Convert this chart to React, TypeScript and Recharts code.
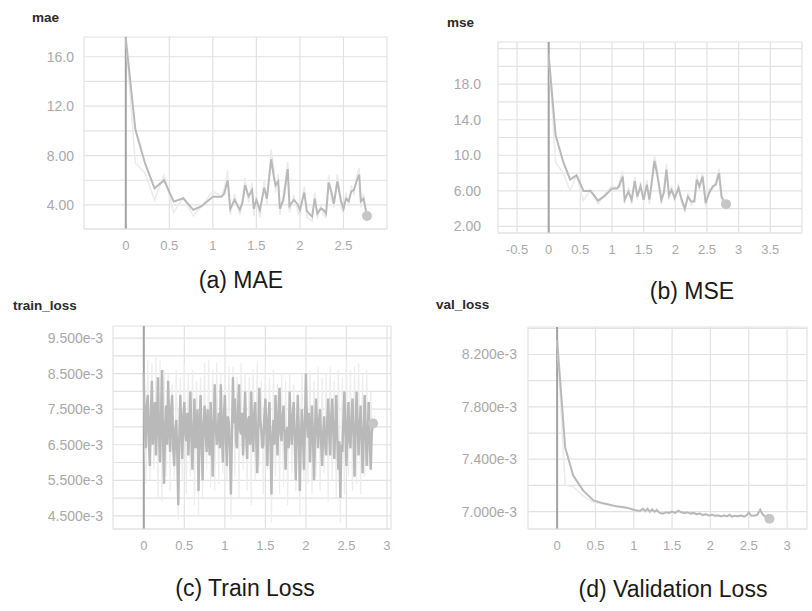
import React from 'react';
import { LineChart, Line, XAxis, YAxis, CartesianGrid, ReferenceLine, ReferenceDot } from 'recharts';

// (a) mae
const maeX = [0, 0.11, 0.22, 0.33, 0.44, 0.55, 0.66, 0.775, 0.87, 1.0, 1.1,
  1.13, 1.17, 1.2, 1.25, 1.31, 1.34, 1.37, 1.41, 1.45, 1.47,
  1.5, 1.54, 1.59, 1.62, 1.67, 1.7, 1.72, 1.75, 1.77, 1.81,
  1.86, 1.88, 1.93, 1.97, 2.0, 2.05, 2.08, 2.14, 2.17, 2.2,
  2.24, 2.27, 2.3, 2.33, 2.36, 2.39, 2.43, 2.47, 2.5, 2.53,
  2.56, 2.59, 2.62, 2.65, 2.68, 2.7, 2.73, 2.76];
const maeSmooth = [17.5, 10.1, 7.4, 5.35, 6.0, 4.27, 4.54, 3.6, 3.9, 4.67, 4.67,
  4.9, 6.0, 3.7, 4.4, 3.6, 4.2, 5.6, 4.7, 5.2, 3.7,
  4.4, 3.6, 5.4, 4.5, 7.7, 6.3, 5.6, 5.9, 3.7, 4.4,
  6.9, 3.9, 4.4, 4.1, 3.6, 5.0, 3.5, 3.05, 4.5, 3.3,
  3.7, 3.6, 3.3, 5.8, 5.1, 4.1, 5.9, 4.4, 3.7, 4.5,
  4.3, 5.1, 5.2, 5.9, 6.45, 4.3, 4.5, 3.5];
const maeRaw = [17.5, 7.4, 6.6, 4.4, 6.4, 3.4, 4.6, 3.1, 3.9, 5.1, 4.7,
  5.3, 6.8, 3.2, 4.9, 3.2, 4.5, 6.2, 4.2, 5.8, 3.1,
  4.8, 3.0, 6.0, 4.0, 8.5, 6.9, 5.0, 6.5, 3.2, 4.9,
  7.5, 3.4, 4.8, 3.6, 3.1, 5.5, 3.0, 2.7, 5.0, 2.9,
  4.0, 3.2, 3.0, 6.4, 4.6, 3.8, 6.5, 3.9, 3.3, 5.0,
  3.9, 5.6, 4.8, 6.3, 7.0, 3.8, 4.9, 3.2];
const maeLast = { x: 2.77, y: 3.1 };

// (b) mse
const mseX = [0, 0.11, 0.23, 0.34, 0.44, 0.55, 0.66, 0.78, 0.88, 1.0, 1.08,
  1.11, 1.17, 1.2, 1.26, 1.31, 1.36, 1.4, 1.45, 1.5, 1.55,
  1.59, 1.62, 1.67, 1.71, 1.75, 1.78, 1.82, 1.86, 1.9, 1.94,
  1.99, 2.05, 2.1, 2.15, 2.2, 2.25, 2.3, 2.34, 2.38, 2.43,
  2.48, 2.53, 2.59, 2.64, 2.69, 2.73, 2.76];
const mseSmooth = [21.3, 12.25, 9.25, 7.26, 7.75, 5.98, 6.0, 4.9, 5.4, 6.25, 6.25,
  6.5, 7.6, 5.0, 5.9, 5.0, 7.1, 5.35, 6.5, 5.0, 6.7,
  5.0, 6.5, 9.35, 8.0, 6.3, 5.0, 5.8, 8.4, 5.5, 6.1,
  5.2, 6.3, 5.0, 4.0, 5.35, 4.8, 4.8, 7.25, 6.5, 7.6,
  4.6, 5.7, 6.5, 6.7, 8.0, 5.35, 5.0];
const mseRaw = [21.3, 9.2, 8.0, 6.0, 7.8, 4.9, 6.1, 4.5, 5.6, 6.6, 6.3,
  6.9, 8.2, 4.6, 6.4, 4.5, 7.6, 5.0, 7.0, 4.6, 7.2,
  4.5, 7.0, 10.0, 8.6, 5.8, 4.5, 6.2, 9.0, 5.0, 6.6,
  4.8, 6.8, 4.6, 3.7, 5.8, 4.4, 5.1, 7.8, 6.0, 8.1,
  4.2, 6.2, 6.0, 7.1, 8.5, 4.9, 4.6];
const mseLast = { x: 2.8, y: 4.5 };

// (c) train_loss, values in units of 1e-3
const trainX = [0, 0.0125, 0.025, 0.0375, 0.05, 0.0625, 0.075, 0.0875, 0.1, 0.1125, 0.125, 0.1375, 0.15, 0.1625, 0.175, 0.1875, 0.2, 0.2125, 0.225, 0.2375,
  0.25, 0.2625, 0.275, 0.2875, 0.3, 0.3125, 0.325, 0.3375, 0.35, 0.3625, 0.375, 0.3875, 0.4, 0.4125, 0.425, 0.4375, 0.45, 0.4625, 0.475, 0.4875,
  0.5, 0.5125, 0.525, 0.5375, 0.55, 0.5625, 0.575, 0.5875, 0.6, 0.6125, 0.625, 0.6375, 0.65, 0.6625, 0.675, 0.6875, 0.7, 0.7125, 0.725, 0.7375,
  0.75, 0.7625, 0.775, 0.7875, 0.8, 0.8125, 0.825, 0.8375, 0.85, 0.8625, 0.875, 0.8875, 0.9, 0.9125, 0.925, 0.9375, 0.95, 0.9625, 0.975, 0.9875,
  1.0, 1.0125, 1.025, 1.0375, 1.05, 1.0625, 1.075, 1.0875, 1.1, 1.1125, 1.125, 1.1375, 1.15, 1.1625, 1.175, 1.1875, 1.2, 1.2125, 1.225, 1.2375,
  1.25, 1.2625, 1.275, 1.2875, 1.3, 1.3125, 1.325, 1.3375, 1.35, 1.3625, 1.375, 1.3875, 1.4, 1.4125, 1.425, 1.4375, 1.45, 1.4625, 1.475, 1.4875,
  1.5, 1.5125, 1.525, 1.5375, 1.55, 1.5625, 1.575, 1.5875, 1.6, 1.6125, 1.625, 1.6375, 1.65, 1.6625, 1.675, 1.6875, 1.7, 1.7125, 1.725, 1.7375,
  1.75, 1.7625, 1.775, 1.7875, 1.8, 1.8125, 1.825, 1.8375, 1.85, 1.8625, 1.875, 1.8875, 1.9, 1.9125, 1.925, 1.9375, 1.95, 1.9625, 1.975, 1.9875,
  2.0, 2.0125, 2.025, 2.0375, 2.05, 2.0625, 2.075, 2.0875, 2.1, 2.1125, 2.125, 2.1375, 2.15, 2.1625, 2.175, 2.1875, 2.2, 2.2125, 2.225, 2.2375,
  2.25, 2.2625, 2.275, 2.2875, 2.3, 2.3125, 2.325, 2.3375, 2.35, 2.3625, 2.375, 2.3875, 2.4, 2.4125, 2.425, 2.4375, 2.45, 2.4625, 2.475, 2.4875,
  2.5, 2.5125, 2.525, 2.5375, 2.55, 2.5625, 2.575, 2.5875, 2.6, 2.6125, 2.625, 2.6375, 2.65, 2.6625, 2.675, 2.6875, 2.7, 2.7125, 2.725, 2.7375,
  2.75, 2.7625, 2.775, 2.7875, 2.8, 2.8125, 2.825];
const trainSmooth = [8.5, 6.9, 6.4, 7.6, 7.9, 6.6, 5.9, 7.4, 8.3, 6.5, 7.0, 7.7, 6.2, 7.1, 8.4, 6.8, 6.0, 7.3, 8.6, 6.6,
  5.4, 7.0, 7.6, 6.5, 8.3, 7.2, 6.3, 7.5, 7.9, 6.4, 5.9, 6.9, 7.2, 6.3, 4.8, 6.6, 7.9, 7.0, 6.1, 7.3,
  7.7, 6.8, 6.6, 7.4, 6.2, 7.1, 8.0, 6.7, 5.8, 6.9, 7.8, 6.4, 6.9, 7.5, 5.2, 6.6, 7.9, 6.8, 5.5, 7.0,
  7.6, 6.9, 6.3, 7.5, 6.8, 6.2, 7.7, 7.0, 5.6, 6.9, 8.2, 7.1, 6.5, 6.8, 7.4, 6.4, 8.2, 7.0, 6.0, 7.2,
  7.9, 6.7, 5.9, 7.3, 7.1, 6.4, 5.1, 6.8, 8.4, 7.1, 7.8, 6.6, 6.4, 7.5, 8.2, 6.9, 6.8, 7.4, 6.2, 7.1,
  8.0, 6.8, 6.1, 7.2, 7.3, 6.5, 8.0, 6.9, 6.3, 7.4, 7.7, 6.6, 5.7, 7.0, 8.1, 7.2, 6.9, 6.4, 6.5, 7.3,
  7.8, 6.9, 5.9, 7.2, 7.7, 6.6, 5.1, 6.7, 7.2, 6.5, 7.9, 7.0, 6.2, 7.4, 8.1, 6.8, 6.6, 7.3, 7.6, 6.7,
  5.8, 6.9, 7.0, 6.4, 8.0, 7.1, 6.5, 7.3, 7.7, 6.6, 5.5, 6.8, 7.9, 6.9, 5.2, 6.6, 7.5, 6.9, 5.8, 7.0,
  8.5, 7.2, 6.7, 7.4, 6.0, 6.8, 7.6, 6.7, 5.5, 6.9, 7.8, 7.0, 6.4, 7.2, 7.5, 6.6, 5.9, 6.8, 7.3, 6.5,
  6.2, 7.1, 7.8, 6.8, 6.2, 7.3, 7.8, 6.9, 6.1, 7.0, 7.9, 6.7, 5.8, 6.6, 5.0, 6.5, 6.3, 7.2, 8.0, 6.9,
  5.9, 7.0, 7.7, 6.6, 6.4, 7.3, 7.8, 6.8, 5.6, 6.9, 8.0, 7.1, 6.2, 7.0, 7.6, 6.7, 5.7, 6.8, 7.9, 6.9,
  5.9, 6.8, 7.7, 6.6, 5.8, 6.8, 7.1];
const trainRaw = [8.5, 6.8, 5.4, 7.2, 8.9, 6.9, 5.5, 7.1, 8.8, 7.0, 5.8, 6.7, 9.0, 7.3, 5.0, 6.9, 8.9, 7.0, 4.9, 7.2,
  8.6, 6.8, 5.6, 7.1, 8.5, 6.9, 5.2, 7.3, 8.2, 7.0, 5.5, 6.8, 8.6, 7.1, 4.4, 6.9, 8.4, 7.2, 5.5, 7.0,
  8.8, 6.9, 5.1, 7.2, 8.5, 7.0, 5.6, 6.8, 8.6, 7.1, 4.8, 6.9, 8.3, 7.2, 4.5, 7.0, 8.4, 6.8, 5.0, 7.1,
  8.8, 7.0, 5.8, 6.9, 8.9, 7.1, 5.3, 7.0, 8.6, 6.8, 5.2, 7.2, 8.8, 6.9, 5.4, 7.0, 8.5, 7.1, 5.7, 6.9,
  9.0, 7.2, 5.5, 6.9, 8.7, 7.0, 4.4, 6.8, 8.7, 7.1, 5.6, 6.9, 8.4, 7.2, 5.0, 7.0, 8.8, 6.8, 5.8, 7.1,
  8.5, 7.0, 5.2, 6.9, 8.4, 7.1, 4.8, 7.0, 8.6, 6.8, 5.5, 7.2, 8.8, 6.9, 5.9, 7.1, 8.3, 7.0, 5.1, 6.8,
  8.7, 7.1, 5.8, 6.9, 8.4, 7.0, 4.3, 6.8, 8.6, 7.2, 5.6, 6.9, 8.2, 7.1, 5.1, 7.0, 8.5, 6.8, 5.3, 7.1,
  8.3, 6.9, 4.8, 7.0, 8.5, 7.2, 5.7, 6.8, 8.2, 7.1, 5.2, 6.9, 8.0, 7.0, 4.5, 7.2, 8.5, 6.9, 5.5, 7.0,
  9.0, 7.1, 5.4, 6.8, 8.6, 7.0, 5.1, 7.2, 8.3, 6.9, 5.6, 7.1, 8.7, 7.0, 5.2, 6.8, 8.4, 7.1, 5.7, 6.9,
  8.5, 7.0, 4.9, 7.2, 8.7, 6.9, 5.5, 7.1, 8.3, 7.0, 5.0, 6.8, 8.6, 7.1, 4.3, 6.9, 8.4, 7.0, 5.1, 7.2,
  8.9, 6.9, 5.6, 7.0, 8.6, 7.1, 5.2, 6.8, 8.7, 7.0, 5.4, 7.2, 8.8, 6.9, 5.1, 7.1, 8.5, 7.0, 5.6, 6.9,
  8.6, 7.0, 5.9, 7.1, 8.0, 7.2, 7.1];
const trainLast = { x: 2.83, y: 7.1 };

// (d) val_loss, values in units of 1e-3
const valX = [0, 0.105, 0.21, 0.34, 0.475, 0.6, 0.78, 0.91, 1.02,
  1.08, 1.12, 1.15, 1.18, 1.21, 1.24, 1.27, 1.3, 1.34, 1.38,
  1.42, 1.46, 1.5, 1.54, 1.58, 1.62, 1.66, 1.7, 1.74, 1.78,
  1.82, 1.86, 1.9, 1.94, 1.98, 2.02, 2.06, 2.1, 2.14, 2.18,
  2.22, 2.25, 2.28, 2.32, 2.36, 2.4, 2.44, 2.48, 2.5, 2.53,
  2.57, 2.61, 2.65, 2.68, 2.71, 2.74];
const valSmooth = [8.31, 7.49, 7.275, 7.16, 7.085, 7.063, 7.04, 7.03, 7.01,
  7.005, 7.02, 7.005, 7.02, 7.0, 7.015, 7.0, 7.01, 6.99, 6.985,
  6.995, 6.99, 7.0, 6.99, 7.005, 6.995, 6.99, 6.995, 6.985, 6.99,
  6.98, 6.985, 6.975, 6.98, 6.97, 6.975, 6.968, 6.97, 6.965, 6.97,
  6.965, 6.975, 6.962, 6.968, 6.965, 6.97, 6.962, 6.975, 6.995, 6.97,
  6.968, 6.975, 7.012, 6.98, 6.965, 6.955];
const valRaw = [8.31, 7.2, 7.19, 7.12, 7.07, 7.06, 7.035, 7.03, 7.005,
  7.0, 7.03, 6.995, 7.03, 6.99, 7.025, 6.99, 7.02, 6.985, 6.98,
  7.0, 6.985, 7.005, 6.985, 7.015, 6.99, 6.985, 7.0, 6.98, 6.995,
  6.975, 6.99, 6.97, 6.985, 6.965, 6.98, 6.965, 6.975, 6.96, 6.975,
  6.96, 6.985, 6.958, 6.972, 6.96, 6.975, 6.958, 6.98, 7.005, 6.965,
  6.972, 6.97, 7.02, 6.975, 6.96, 6.95];
const valLast = { x: 2.77, y: 6.945 };

const rows = (xs: number[], smooth: number[], raw: number[]) =>
  xs.map((x, i) => ({ x, smooth: smooth[i], raw: raw[i] }));

const XTICK = { fill: '#a9a9a9', fontSize: 13 };
const YTICK = { fill: '#a9a9a9', fontSize: 14 };
const GRID = '#e2e2e2';

const fmt3 = (v: number) => (Math.abs(v) >= 10 ? v.toFixed(1) : v.toFixed(2));
const fmtE3 = (v: number) => `${v.toFixed(3)}e-3`;

function Panel(p: any) {
  return (
    <div style={{ position: 'absolute', left: p.left, top: p.top }}>
      <LineChart width={p.width} height={p.height} data={p.data}
        margin={{ top: p.mt, right: p.mr, bottom: 0, left: 0 }}>
        <CartesianGrid stroke={GRID} strokeWidth={1.2} />
        <XAxis type="number" dataKey="x" domain={p.xDomain} ticks={p.xTicks} allowDataOverflow
          interval={0} height={p.xh} tickLine={false} axisLine={{ stroke: GRID, strokeWidth: 1.2 }}
          tick={XTICK} tickMargin={6} tickFormatter={p.xFmt} />
        <YAxis type="number" domain={p.yDomain} ticks={p.yTicks} allowDataOverflow interval={0}
          width={p.yw} tickLine={false} axisLine={false} tick={YTICK} tickMargin={p.ym}
          tickFormatter={p.yFmt} />
        <ReferenceLine x={0} stroke="#a3a3a3" strokeWidth={2} />
        <Line type="linear" dataKey="raw" stroke={p.rawColor || '#ebebeb'} strokeWidth={p.rw || 1.5}
          dot={false} isAnimationActive={false} />
        <Line type="linear" dataKey="smooth" stroke="#b9b9b9" strokeWidth={p.sw || 2} dot={false}
          isAnimationActive={false} />
        <ReferenceDot x={p.end.x} y={p.end.y} r={5} fill="#c6c6c6" stroke="none" />
      </LineChart>
    </div>
  );
}

const label = (text: string, x: number, y: number, style: any) => (
  <div style={{ position: 'absolute', left: x, top: y, whiteSpace: 'nowrap', ...style }}>{text}</div>
);

const titleStyle = { fontSize: 13.5, fontWeight: 700, color: '#2a2a2a', lineHeight: '16px' };
const captionStyle = { fontSize: 23, color: '#1a1a1a', lineHeight: '26px', width: 300, textAlign: 'center' };

export default function App() {
  return (
    <div style={{ position: 'absolute', left: 0, top: 0, width: 812, height: 611, background: '#fff',
      fontFamily: '"Liberation Sans", Arial, Helvetica, sans-serif', overflow: 'hidden' }}>
      <Panel left={0} top={0} width={400} height={260} mt={37} mr={13} yw={84} xh={31} ym={4}
        data={rows(maeX, maeSmooth, maeRaw)} xDomain={[-0.48, 3.0]} xTicks={[0, 0.5, 1, 1.5, 2, 2.5, 3]}
        xFmt={(v: number) => (v === 3 ? '' : String(v))}
        yDomain={[2.05, 17.6]} yTicks={[4, 6, 8, 10, 12, 14, 16]}
        yFmt={(v: number) => (v % 4 === 0 ? fmt3(v) : '')} end={maeLast} />
      <Panel left={400} top={0} width={412} height={260} mt={42} mr={10} yw={98} xh={27} ym={11}
        data={rows(mseX, mseSmooth, mseRaw)} xDomain={[-0.8, 4.0]}
        xTicks={[-0.5, 0, 0.5, 1, 1.5, 2, 2.5, 3, 3.5]} xFmt={(v: number) => String(v)}
        yDomain={[1.25, 22.75]} yTicks={[2, 4, 6, 8, 10, 12, 14, 16, 18, 20, 22]}
        yFmt={(v: number) => ((v - 2) % 4 === 0 && v < 20 ? fmt3(v) : '')} end={mseLast} />
      <Panel left={0} top={300} width={400} height={260} mt={26} mr={9} yw={113} xh={31} ym={4}
        sw={2.4} rw={1.2} rawColor="#ededed"
        data={rows(trainX, trainSmooth, trainRaw)} xDomain={[-0.38, 3.05]}
        xTicks={[0, 0.5, 1, 1.5, 2, 2.5, 3]} xFmt={(v: number) => String(v)}
        yDomain={[4.13, 9.84]} yTicks={[4.5, 5, 5.5, 6, 6.5, 7, 7.5, 8, 8.5, 9, 9.5]}
        yFmt={(v: number) => (Math.round(v * 2) % 2 === 1 ? fmtE3(v) : '')} end={trainLast} />
      <Panel left={400} top={300} width={412} height={260} mt={27} mr={5} yw={128} xh={31} ym={5}
        data={rows(valX, valSmooth, valRaw)} xDomain={[-0.38, 3.26]}
        xTicks={[0, 0.5, 1, 1.5, 2, 2.5, 3]} xFmt={(v: number) => String(v)}
        yDomain={[6.867, 8.41]} yTicks={[7.0, 7.2, 7.4, 7.6, 7.8, 8.0, 8.2, 8.4]}
        yFmt={(v: number) => (Math.round(v * 5) % 2 === 1 ? fmtE3(v) : '')} end={valLast} />

      {label('mae', 32, 10, titleStyle)}
      {label('mse', 447, 15, titleStyle)}
      {label('train_loss', 13, 298, titleStyle)}
      {label('val_loss', 436, 297, titleStyle)}

      {label('(a) MAE', 241 - 150, 267, captionStyle)}
      {label('(b) MSE', 692 - 150, 278, captionStyle)}
      {label('(c) Train Loss', 245 - 150, 575, captionStyle)}
      {label('(d) Validation Loss', 673 - 150, 576, captionStyle)}
    </div>
  );
}
